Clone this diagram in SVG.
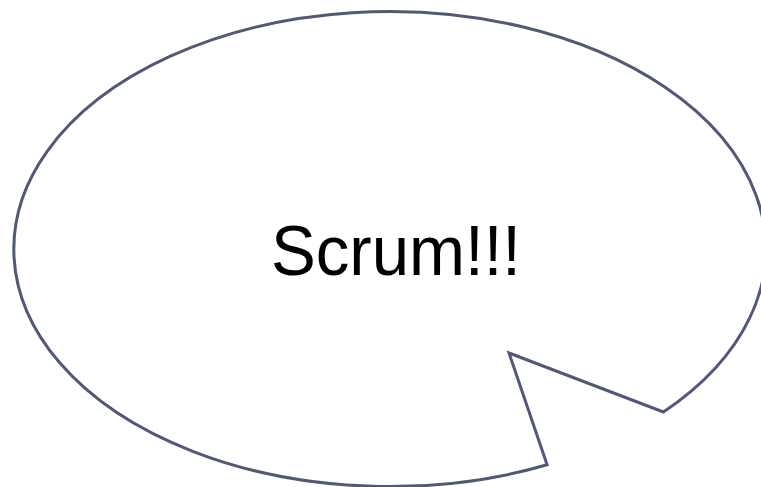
<svg xmlns="http://www.w3.org/2000/svg" width="761" height="487" viewBox="0 0 761 487">
<style>
.bubble{fill:#ffffff;stroke:#515977;stroke-width:3;stroke-linejoin:miter}
.label{font-family:"Liberation Sans","Open Sans",sans-serif;font-size:71px;fill:#000000}
</style>
<rect width="761" height="487" fill="#ffffff"/>
<g id="callout">
<path class="bubble" d="M509,353 L663.4,412 A376,237.5 0 1 0 547.1,464.8 Z"/>
<text class="label" x="271" y="275" textLength="250" lengthAdjust="spacingAndGlyphs">Scrum!!!</text>
</g>
</svg>
